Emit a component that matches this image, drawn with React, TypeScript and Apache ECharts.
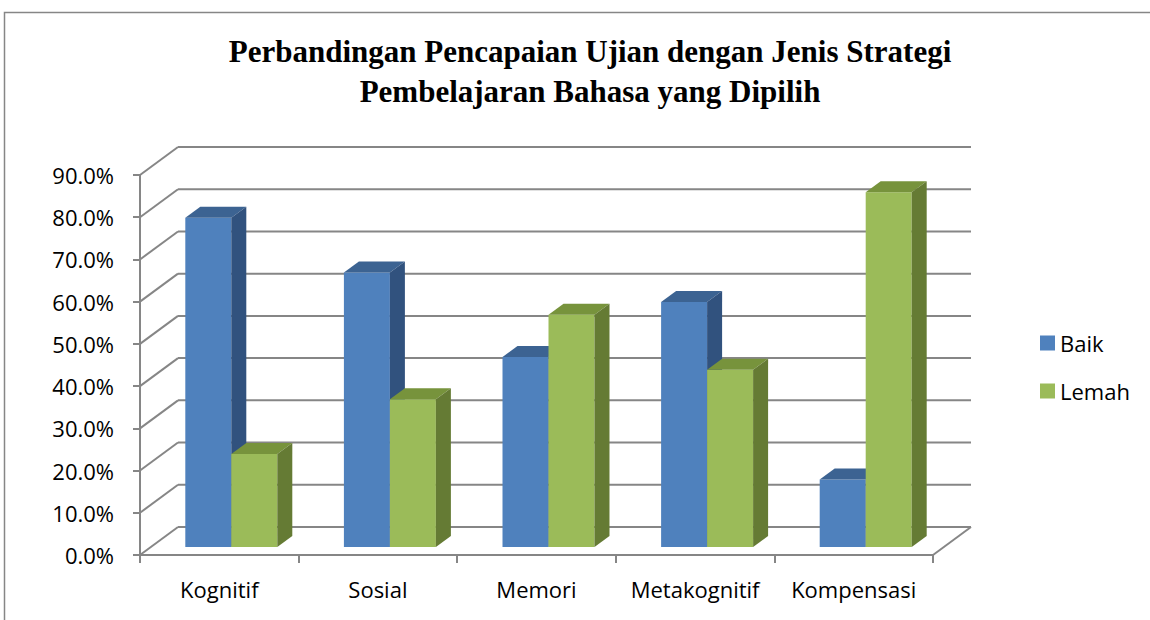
import React, { useEffect, useRef } from "react";
import * as echarts from "echarts";

const categories = ["Kognitif", "Sosial", "Memori", "Metakognitif", "Kompensasi"];
const seriesNames = ["Baik", "Lemah"];
const baik = [78, 65, 45, 58, 16];
const lemah = [22, 35, 55, 42, 84];
const yTicks = [0, 10, 20, 30, 40, 50, 60, 70, 80, 90];

const TITLE = "Perbandingan Pencapaian Ujian dengan Jenis Strategi\nPembelajaran Bahasa yang Dipilih";

// depth geometry (pixels)
const DX = 38;
const DY = -28;
const FX = 11;
const FY = -8;
const BDX = 15;
const BDY = -11;

const GRID_COLOR = "#868686";
const LABEL_FONT = "Open Sans";

const palettes = [
  { front: "#4F81BD", top: "#3C6392", side: "#31527E" },
  { front: "#9BBB59", top: "#77933C", side: "#657B34" },
];

function barRender(si: number) {
  return (params: any, api: any) => {
    const i = api.value(0);
    const v = api.value(1);
    const base = api.coord([i, 0]);
    const top = api.coord([i, v]);
    const bw = api.size([1, 0])[0];
    const w = bw * 0.29;
    const x0 = base[0] + (si === 0 ? -w : 0) + 1 + FX;
    const x1 = x0 + w;
    const yb = base[1] + FY;
    const yt = top[1] + FY;
    const p = palettes[si];
    return {
      type: "group",
      children: [
        {
          type: "polygon",
          shape: { points: [[x0, yb], [x1, yb], [x1, yt], [x0, yt]] },
          style: { fill: p.front },
        },
        {
          type: "polygon",
          shape: { points: [[x0, yt], [x1, yt], [x1 + BDX, yt + BDY], [x0 + BDX, yt + BDY]] },
          style: { fill: p.top },
        },
        {
          type: "polygon",
          shape: { points: [[x1, yb], [x1 + BDX, yb + BDY], [x1 + BDX, yt + BDY], [x1, yt]] },
          style: { fill: p.side },
        },
      ],
    };
  };
}

function gridRender(params: any, api: any) {
  const v = api.value(1);
  const y = api.coord([0, v])[1];
  const cs = params.coordSys;
  const L = cs.x;
  const R = cs.x + cs.width;
  const ls = { stroke: GRID_COLOR, lineWidth: 2 };
  const children: any[] = [
    { type: "line", shape: { x1: L, y1: y, x2: L + DX, y2: y + DY }, style: ls },
    { type: "line", shape: { x1: L + DX, y1: y + DY, x2: R + DX, y2: y + DY }, style: ls },
  ];
  if (v === 0) {
    children.push({ type: "line", shape: { x1: R, y1: y, x2: R + DX, y2: y + DY }, style: ls });
  }
  return { type: "group", children };
}

export default function App() {
  const ref = useRef<HTMLDivElement>(null);
  useEffect(() => {
    if (!ref.current) return;
    const chart = echarts.init(ref.current, undefined, { renderer: "svg" });
    chart.setOption({
      animation: false,
      backgroundColor: "#ffffff",
      title: {
        text: TITLE,
        left: 585,
        top: 26,
        textAlign: "center",
        textStyle: {
          fontFamily: "Liberation Serif",
          fontWeight: "bold",
          fontSize: 31,
          lineHeight: 40,
          color: "#000",
        },
      },
      graphic: [
        {
          type: "rect",
          shape: { x: 4.5, y: 12.5, width: 1200, height: 700 },
          style: { fill: "none", stroke: "#868686", lineWidth: 1.5 },
          silent: true,
        },
      ],
      legend: {
        data: seriesNames,
        orient: "vertical",
        left: 1035,
        top: 327,
        icon: "rect",
        itemWidth: 15,
        itemHeight: 15,
        itemGap: 26,
        textStyle: { fontFamily: LABEL_FONT, fontSize: 22, color: "#000" },
      },
      grid: { left: 140, right: 217, top: 175, bottom: 65, containLabel: false },
      xAxis: {
        type: "category",
        data: categories,
        axisLine: { show: true, lineStyle: { color: GRID_COLOR, width: 2 } },
        axisTick: { show: true, interval: 0, length: 8, lineStyle: { color: GRID_COLOR, width: 2 } },
        axisLabel: {
          interval: 0,
          hideOverlap: false,
          margin: 23,
          fontFamily: LABEL_FONT,
          fontSize: 22,
          color: "#000",
        },
        splitLine: { show: false },
      },
      yAxis: {
        type: "value",
        min: 0,
        max: 90,
        interval: 10,
        axisLine: { show: true, lineStyle: { color: GRID_COLOR, width: 2 } },
        axisTick: { show: true, length: 7, lineStyle: { color: GRID_COLOR, width: 2 } },
        axisLabel: {
          margin: 26,
          fontFamily: LABEL_FONT,
          fontSize: 22,
          color: "#000",
          formatter: (v: number) => v.toFixed(1) + "%",
        },
        splitLine: { show: false },
      },
      series: [
        {
          type: "custom",
          name: "grid",
          silent: true,
          renderItem: gridRender,
          data: yTicks.map((t) => [0, t]),
          encode: { x: 0, y: 1 },
          z: 1,
        },
        {
          type: "custom",
          name: seriesNames[0],
          renderItem: barRender(0),
          itemStyle: { color: palettes[0].front },
          data: baik.map((v, i) => [i, v]),
          encode: { x: 0, y: 1 },
          z: 2,
        },
        {
          type: "custom",
          name: seriesNames[1],
          renderItem: barRender(1),
          itemStyle: { color: palettes[1].front },
          data: lemah.map((v, i) => [i, v]),
          encode: { x: 0, y: 1 },
          z: 3,
        },
      ],
    });
    return () => chart.dispose();
  }, []);
  return (
    <div
      ref={ref}
      style={{ position: "fixed", left: 0, top: 0, width: 1150, height: 620, background: "#fff" }}
    />
  );
}
